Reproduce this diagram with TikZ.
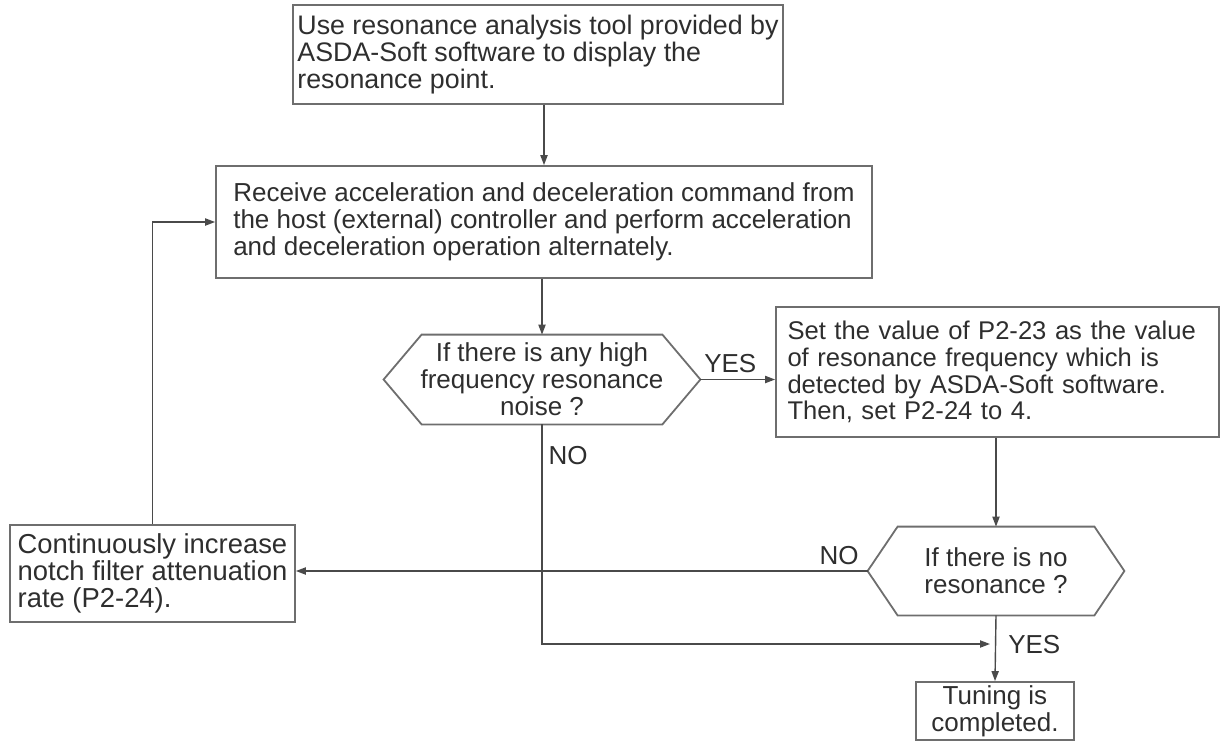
\documentclass[tikz,border=0pt]{standalone}
\usepackage{fontspec}
\setmainfont{Liberation Sans}
\usetikzlibrary{arrows.meta,positioning}
\definecolor{boxgray}{HTML}{6E6E6E}
\definecolor{linegray}{HTML}{4A4A4A}
\definecolor{txtgray}{HTML}{2E2E2E}

\begin{document}
\begin{tikzpicture}[x=0.5pt, y=-0.5pt, font=\fontsize{13}{13.5}\selectfont, box/.style={rectangle,draw=boxgray,line width=0.9pt,text=txtgray,inner sep=0pt,align=left}, dec/.style={rectangle,text=txtgray,inner sep=0pt,align=center}, lbl/.style={text=txtgray,inner sep=3pt}, flow/.style={draw=linegray,line width=0.7pt,-{Triangle[length=5pt,width=3.6pt]}}]
  \useasboundingbox (0,0) rectangle (1221,740);

  \node[box, font=\fontsize{13.4}{13.5}\selectfont, minimum width=245pt, minimum height=49.5pt] (use) at (538,54.5) {Use resonance analysis tool provided by\\ASDA-Soft software to display the\\resonance point.};
  \node[box, minimum width=328pt, minimum height=56pt] (recv) at (544,222) {Receive acceleration and deceleration command from\\the host (external) controller and perform acceleration\\and deceleration operation alternately.};
  \node[dec, minimum width=158pt, minimum height=44.5pt] (noise) at (542,379.5) {If there is any high\\frequency resonance\\noise ?};
  \node[box, font=\fontsize{12.8}{13.4}\selectfont, text width=210pt, inner xsep=5.75pt, minimum height=65pt] (setval) at (997.5,372) {Set the value of P2-23 as the value\\of resonance frequency which is\\detected by ASDA-Soft software.\\Then, set P2-24 to 4.};
  \node[dec, minimum width=128pt, minimum height=44pt] (nores) at (996,571) {If there is no\\resonance ?};
  \node[box, font=\fontsize{13.7}{13.5}\selectfont, minimum width=142.5pt, minimum height=48.5pt] (incr) at (152.5,573.5) {Continuously increase\\notch filter attenuation\\rate (P2-24).};
  \node[box, align=center, minimum width=79pt, minimum height=29pt] (done) at (995,711) {Tuning is\\completed.};
  \coordinate (yesin) at (990,644);

  \foreach \n/\s in {noise/19pt, nores/15pt}
    \draw[draw=boxgray, line width=0.9pt] (\n.west) -- ([xshift=\s]\n.north west) -- ([xshift=-\s]\n.north east) -- (\n.east) -- ([xshift=-\s]\n.south east) -- ([xshift=\s]\n.south west) -- cycle;

  \draw[flow] (recv.north |- use.south) -- (recv.north);
  \draw[flow] (noise.north |- recv.south) -- (noise.north);
  \draw[flow] (noise.east) -- node[lbl, above, pos=0.4] {YES} (noise.east -| setval.west);
  \draw[flow] (nores.north |- setval.south) -- (nores.north);
  \draw[flow] (nores.west) -- node[lbl, above, pos=0.05] {NO} (nores.west -| incr.east);
  \draw[flow] (noise.south) |- node[lbl, right, pos=0.07] {NO} (yesin);
  \draw[flow] (nores.south) -- node[lbl, right=3pt, pos=0.45] {YES} (done.north);
  \draw[flow] (incr.north) |- (recv.west);
\end{tikzpicture}
\end{document}
